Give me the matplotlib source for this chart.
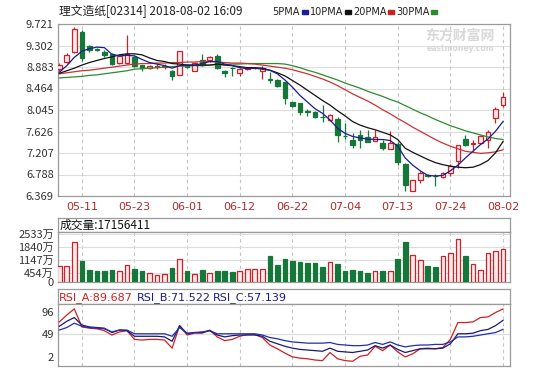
import numpy as np
import matplotlib.pyplot as plt
from matplotlib.patches import Rectangle
from matplotlib.transforms import ScaledTranslation

plt.rcParams['font.family'] = ['Noto Sans CJK SC', 'DejaVu Sans']

# ---- data ----
opens = [8.84, 8.99, 9.18, 9.57, 9.29, 9.24, 9.17, 9.14, 8.96, 8.97,
         9.07, 8.92, 8.86, 8.89, 8.89, 8.80, 8.73, 8.93, 8.81, 9.01,
         9.01, 9.10, 8.81, 8.87, 8.77, 8.85, 8.86, 8.81, 8.64, 8.63,
         8.59, 8.20, 8.18, 8.02, 8.01, 7.91, 7.85, 7.86, 7.54, 7.47,
         7.55, 7.52, 7.45, 7.41, 7.29, 7.38, 7.00, 6.47, 6.68, 6.77,
         6.76, 6.74, 6.81, 7.05, 7.48, 7.39, 7.40, 7.47, 7.88, 8.14]
highs = [8.96, 9.15, 9.66, 9.60, 9.32, 9.26, 9.22, 9.15, 9.12, 9.50,
         9.10, 8.93, 8.93, 8.94, 8.95, 8.82, 9.20, 8.95, 8.99, 9.13,
         9.10, 9.13, 8.83, 8.89, 8.86, 8.88, 8.88, 8.90, 8.78, 8.64,
         8.60, 8.21, 8.19, 8.07, 8.02, 8.14, 7.96, 7.91, 7.79, 7.59,
         7.66, 7.66, 7.66, 7.47, 7.63, 7.43, 7.01, 6.69, 6.86, 6.79,
         6.80, 6.83, 6.99, 7.37, 7.55, 7.47, 7.55, 7.66, 8.10, 8.39]
lows = [8.80, 8.96, 9.15, 9.00, 9.18, 9.19, 9.08, 8.93, 8.94, 8.95,
        8.88, 8.81, 8.84, 8.84, 8.85, 8.63, 8.72, 8.86, 8.80, 8.90,
        8.98, 8.84, 8.68, 8.70, 8.71, 8.83, 8.84, 8.65, 8.58, 8.50,
        8.17, 8.11, 7.95, 7.93, 7.89, 7.82, 7.84, 7.43, 7.48, 7.31,
        7.31, 7.42, 7.44, 7.27, 7.28, 6.97, 6.47, 6.46, 6.63, 6.74,
        6.57, 6.72, 6.76, 6.92, 7.34, 7.24, 7.38, 7.31, 7.79, 8.10]
closes = [8.93, 9.11, 9.62, 9.05, 9.22, 9.22, 9.11, 8.95, 9.10, 9.13,
          8.90, 8.87, 8.90, 8.90, 8.91, 8.70, 9.19, 8.89, 8.97, 8.92,
          9.08, 8.87, 8.77, 8.86, 8.84, 8.87, 8.87, 8.87, 8.63, 8.51,
          8.27, 8.13, 8.01, 8.01, 7.90, 7.90, 7.95, 7.56, 7.53, 7.37,
          7.47, 7.43, 7.52, 7.31, 7.40, 7.03, 6.59, 6.68, 6.81, 6.76,
          6.75, 6.81, 6.95, 7.36, 7.37, 7.40, 7.53, 7.61, 8.07, 8.30]

ma5 = [8.78, 8.91, 9.07, 9.19, 9.24, 9.27, 9.26, 9.13, 9.10, 9.11,
       9.10, 9.03, 8.97, 8.94, 8.91, 8.86, 8.91, 8.92, 8.92, 8.95,
       8.99, 8.99, 8.94, 8.91, 8.87, 8.85, 8.86, 8.84, 8.82, 8.75,
       8.63, 8.49, 8.33, 8.20, 8.07, 7.98, 7.85, 7.69, 7.59, 7.53,
       7.50, 7.48, 7.47, 7.47, 7.45, 7.34, 7.11, 6.97, 6.86, 6.77,
       6.76, 6.77, 6.86, 6.97, 7.11, 7.24, 7.37, 7.48, 7.63, 7.82]
ma10 = [8.76, 8.81, 8.86, 8.92, 8.97, 9.01, 9.05, 9.08, 9.12, 9.14,
        9.14, 9.12, 9.06, 9.01, 8.99, 8.95, 8.94, 8.92, 8.92, 8.92,
        8.92, 8.94, 8.92, 8.91, 8.89, 8.87, 8.87, 8.86, 8.82, 8.77,
        8.71, 8.62, 8.53, 8.43, 8.33, 8.23, 8.14, 8.03, 7.93, 7.82,
        7.75, 7.70, 7.66, 7.61, 7.56, 7.47, 7.30, 7.22, 7.15, 7.08,
        7.02, 6.98, 6.95, 6.93, 6.92, 6.93, 6.98, 7.06, 7.21, 7.43]
ma20 = [8.75, 8.77, 8.79, 8.81, 8.82, 8.84, 8.86, 8.88, 8.90, 8.92,
        8.94, 8.95, 8.95, 8.96, 8.96, 8.97, 8.97, 8.98, 8.98, 8.99,
        8.99, 8.98, 8.97, 8.96, 8.96, 8.95, 8.94, 8.92, 8.90, 8.88,
        8.86, 8.83, 8.79, 8.75, 8.70, 8.65, 8.59, 8.52, 8.44, 8.36,
        8.29, 8.22, 8.14, 8.05, 7.97, 7.88, 7.80, 7.71, 7.63, 7.55,
        7.47, 7.40, 7.34, 7.29, 7.24, 7.22, 7.20, 7.21, 7.23, 7.27]
ma30 = [8.67, 8.68, 8.69, 8.70, 8.72, 8.73, 8.75, 8.77, 8.79, 8.81,
        8.84, 8.85, 8.86, 8.87, 8.88, 8.89, 8.90, 8.90, 8.91, 8.91,
        8.92, 8.93, 8.93, 8.94, 8.94, 8.95, 8.95, 8.95, 8.95, 8.95,
        8.94, 8.91, 8.87, 8.82, 8.78, 8.73, 8.68, 8.63, 8.57, 8.52,
        8.47, 8.41, 8.36, 8.31, 8.25, 8.20, 8.13, 8.06, 7.99, 7.93,
        7.86, 7.80, 7.74, 7.69, 7.64, 7.60, 7.56, 7.52, 7.49, 7.47]

# volume in 万 shares
volume = [827, 827, 2094, 1091, 616, 563, 563, 616, 563, 915,
          669, 563, 458, 352, 405, 722, 1232, 563, 405, 616,
          458, 563, 563, 510, 563, 669, 669, 669, 1355, 880,
          1197, 1091, 1038, 986, 986, 774, 1038, 933, 563, 616,
          563, 458, 563, 563, 563, 1197, 2094, 1408, 1144, 827,
          774, 1355, 1514, 2253, 1355, 933, 616, 1514, 1619, 1716]

rsi_a = [69, 80, 90, 61, 59, 58, 55, 48, 53, 55,
         41, 40, 41, 41, 40, 27, 63, 48, 51, 51,
         56, 45, 39, 41, 46, 49, 49, 44, 32, 26,
         19, 13, 11, 10, 8, 7, 20, 10, 7, 6,
         14, 16, 30, 23, 32, 21, 13, 18, 26, 27,
         26, 28, 41, 68, 68, 69, 76, 77, 84, 89.687]
rsi_b = [62, 70, 76, 64, 61, 60, 59, 52, 56, 55,
         46, 46, 46, 46, 45, 38, 63, 50, 52, 52,
         55, 48, 45, 47, 48, 48, 48, 46, 38, 34,
         30, 27, 25, 24, 23, 22, 27, 22, 21, 20,
         22, 24, 31, 27, 32, 25, 20, 23, 26, 26,
         26, 27, 34, 50, 50, 51, 55, 57, 63, 71.522]
rsi_c = [56, 60, 67, 62, 60, 59, 58, 53, 56, 56,
         50, 50, 50, 50, 50, 46, 60, 51, 52, 53,
         55, 50, 50, 50, 50, 50, 50, 48, 44, 42,
         39, 37, 36, 35, 35, 35, 36, 33, 32, 31,
         31, 32, 36, 33, 37, 32, 29, 31, 32, 32,
         33, 33, 37, 45, 45, 46, 48, 50, 52, 57.139]

date_idx = [3, 10, 17, 24, 31, 38, 45, 52, 59]
date_labels = ['05-11', '05-23', '06-01', '06-12', '06-22',
               '07-04', '07-13', '07-24', '08-02']
price_ticks = [6.369, 6.788, 7.207, 7.626, 8.045, 8.464, 8.883, 9.302, 9.721]
vol_ticks = [0, 454, 1147, 1840, 2533]
rsi_ticks = [96, 49, 2]

# ---- style ----
RED = '#c8232c'
PINK = '#fdeaea'
GREEN = '#16773a'
GRID = '#dddddd'
VGRID = '#c4c4c4'
FRAME = '#9a9a9a'
DATE_C = '#b22a2a'
TXT = '#333333'

W, H = 536, 378
fig = plt.figure(figsize=(W / 100, H / 100), dpi=100)
fig.patch.set_facecolor('white')


def box(x0, y0, x1, y1):
    return [x0 / W, 1 - y1 / H, (x1 - x0) / W, (y1 - y0) / H]


ax = fig.add_axes(box(58, 24, 510, 196))
vh = fig.add_axes(box(58, 218, 510, 232))
av = fig.add_axes(box(58, 232, 510, 282))
rh = fig.add_axes(box(58, 289, 510, 304))
ar = fig.add_axes(box(58, 304, 510, 366))

x = np.arange(len(closes))
xlim = (-0.17, 59.93)
up = np.array(closes) >= np.array(opens)

for a in (ax, vh, av, rh, ar):
    a.set_xlim(*xlim)
    for s in a.spines.values():
        s.set_color(FRAME)
        s.set_linewidth(0.9)
    a.tick_params(length=0, labelsize=8, colors=TXT, pad=3)
    a.set_xticks([])

for a in (vh, rh):
    a.set_yticks([])

# ---- price panel ----
ax.set_ylim(price_ticks[0], price_ticks[-1])
ax.set_yticks(price_ticks)
ax.set_yticklabels(['%.3f' % t for t in price_ticks])
for t in price_ticks[1:-1]:
    ax.axhline(t, color=GRID, lw=0.8, zorder=0)
for i in date_idx:
    ax.axvline(i, color=VGRID, lw=0.8, ls=(0, (3, 3)), zorder=0)
    av.axvline(i, color=VGRID, lw=0.8, ls=(0, (3, 3)), zorder=0)
    ar.axvline(i, color=VGRID, lw=0.8, ls=(0, (3, 3)), zorder=0)

bw = 0.62
for i in x:
    o, h, l, c = opens[i], highs[i], lows[i], closes[i]
    col = RED if up[i] else GREEN
    fc = PINK if up[i] else GREEN
    ax.vlines(i, l, h, color=col, lw=0.9, zorder=2)
    bot = min(o, c)
    hgt = max(abs(c - o), 0.006)
    ax.add_patch(Rectangle((i - bw / 2, bot), bw, hgt, facecolor=fc,
                           edgecolor=col, lw=0.9, zorder=3))

ax.plot(x, ma30, color='#2e8b2e', lw=0.9, zorder=4)
ax.plot(x, ma20, color='#cc3333', lw=0.9, zorder=4)
ax.plot(x, ma10, color='#111111', lw=0.9, zorder=4)
ax.plot(x, ma5, color='#1c1c8c', lw=0.9, zorder=4)

for i, lab in zip(date_idx, date_labels):
    ax.text(i, -0.065, lab, transform=ax.get_xaxis_transform(), ha='center',
            va='center', fontsize=8, color=DATE_C, family='DejaVu Sans')

# watermark
ax.text(0.965, 0.93, '东方财富网', transform=ax.transAxes, ha='right', va='center',
        fontsize=10, color='#d8d8d8', fontweight='bold')
ax.text(0.965, 0.86, 'eastmoney.com', transform=ax.transAxes, ha='right', va='center',
        fontsize=5.5, color='#d8d8d8', fontweight='bold', family='DejaVu Sans')

# ---- volume panel ----
vtop = 2533 * 50 / 48
av.set_ylim(0, vtop)
av.set_yticks(vol_ticks)
av.set_yticklabels(['0'] + ['%d万' % t for t in vol_ticks[1:]])
for t in vol_ticks[1:]:
    av.axhline(t, color=GRID, lw=0.8, zorder=0)
vcol = [RED if u else GREEN for u in up]
vfc = [PINK if u else GREEN for u in up]
av.bar(x, volume, width=bw, color=vfc, edgecolor=vcol, lw=0.9, zorder=3)
vh.text(0.003, 0.45, '成交量:17156411', transform=vh.transAxes, va='center',
        fontsize=8.5, color='#111111')

# ---- RSI panel ----
ar.set_ylim(-1.6, 97.7)
ar.set_yticks(rsi_ticks)
ar.axhline(49, color=GRID, lw=0.9, zorder=0)
labs = ar.get_yticklabels()
shift = {0: -0.07, 2: 0.07}
for k, lab in enumerate(labs):
    if k in shift:
        lab.set_transform(lab.get_transform() +
                          ScaledTranslation(0, shift[k], fig.dpi_scale_trans))
ar.plot(x, rsi_a, color='#d02020', lw=0.9, zorder=3)
ar.plot(x, rsi_b, color='#1a1a6e', lw=0.9, zorder=3)
ar.plot(x, rsi_c, color='#1f2fb0', lw=0.9, zorder=3)

rh.text(0.003, 0.45, 'RSI_A:89.687', transform=rh.transAxes, va='center',
        fontsize=8, color='#d02020', family='DejaVu Sans')
rh.text((137 - 58) / 452, 0.45, 'RSI_B:71.522', transform=rh.transAxes, va='center',
        fontsize=8, color='#1a1a8c', family='DejaVu Sans')
rh.text((213 - 58) / 452, 0.45, 'RSI_C:57.139', transform=rh.transAxes, va='center',
        fontsize=8, color='#1a1a8c', family='DejaVu Sans')

# ---- title and legend ----
fig.text(59 / W, 1 - 12 / H, '理文造纸[02314] 2018-08-02 16:09', va='center',
         fontsize=8.5, color='#222222')
legend = [('5PMA', 272, 302, '#1c1c9c'), ('10PMA', 310, 345, '#111111'),
          ('20PMA', 353, 388, '#cc2222'), ('30PMA', 396, 431, '#2e8b2e')]
for name, px, sx, col in legend:
    fig.text(px / W, 1 - 12 / H, name, va='center', fontsize=7,
             color='#222222', family='DejaVu Sans')
    fig.patches.append(Rectangle((sx / W, 1 - 14 / H), 6 / W, 4 / H,
                                 transform=fig.transFigure, color=col))

fig.savefig('out.png', dpi=100)
